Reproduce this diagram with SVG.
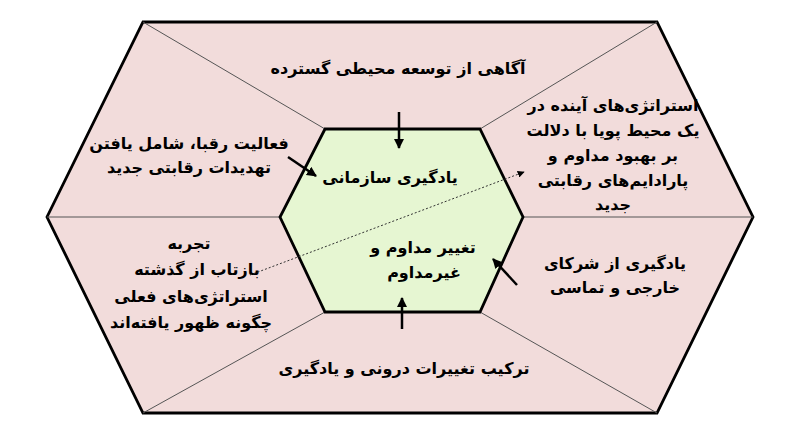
<svg xmlns="http://www.w3.org/2000/svg" width="800" height="436" viewBox="0 0 800 436">
<defs>
<style>
.t{font-family:"DejaVu Sans","Noto Sans",sans-serif;font-weight:bold;font-size:16px;fill:#000;text-anchor:middle;direction:rtl}
.div{stroke:#555;stroke-width:1;fill:none}
.arr{stroke:#000;stroke-width:2.5;fill:none;marker-end:url(#ah)}
.dot{stroke:#333;stroke-width:1;stroke-dasharray:2 2;fill:none;marker-end:url(#ahs)}
</style>
<marker id="ah" viewBox="0 0 10 10" refX="9" refY="5" markerWidth="4" markerHeight="4" orient="auto" markerUnits="strokeWidth">
<path d="M0,0 L10,5 L0,10 z" fill="#000"/>
</marker>
<marker id="ahs" viewBox="0 0 10 10" refX="9" refY="5" markerWidth="7" markerHeight="7" orient="auto" markerUnits="strokeWidth">
<path d="M0,0 L10,5 L0,10 z" fill="#000"/>
</marker>
</defs>
<rect width="800" height="436" fill="#fff"/>
<g id="outer">
<polygon points="143,22 657,22 753,217 657,413 143,413 47,217" fill="#F2DCDB" stroke="#000" stroke-width="2.8" stroke-linejoin="miter"/>
<line class="div" x1="143" y1="22" x2="325" y2="129"/>
<line class="div" x1="657" y1="22" x2="480" y2="129"/>
<line class="div" x1="47" y1="217" x2="280" y2="217"/>
<line class="div" x1="753" y1="217" x2="523" y2="217"/>
<line class="div" x1="143" y1="413" x2="325" y2="312"/>
<line class="div" x1="657" y1="413" x2="480" y2="312"/>
</g>
<g id="inner">
<polygon points="325,129 480,129 523,217 480,312 325,312 280,217" fill="#E6F6D2" stroke="#000" stroke-width="2.8"/>
<text class="t" x="390" y="183">یادگیری سازمانی</text>
<text class="t" x="423" y="253">تغییر مداوم و</text>
<text class="t" x="424" y="278">غیرمداوم</text>
</g>
<g id="top">
<text class="t" x="398" y="74">آگاهی از توسعه محیطی گسترده</text>
</g>
<g id="left-top">
<text class="t" x="189" y="149">فعالیت رقبا، شامل یافتن</text>
<text class="t" x="189" y="173">تهدیدات رقابتی جدید</text>
</g>
<g id="right-top">
<text class="t" x="613" y="111">استراتژی‌های آینده در</text>
<text class="t" x="613" y="136">یک محیط پویا با دلالت</text>
<text class="t" x="613" y="161">بر بهبود مداوم و</text>
<text class="t" x="613" y="186">پارادایم‌های رقابتی</text>
<text class="t" x="613" y="210">جدید</text>
</g>
<g id="left-bottom">
<text class="t" x="189" y="249">تجربه</text>
<text class="t" x="197" y="275">بازتاب از گذشته</text>
<text class="t" x="191" y="302">استراتژی‌های فعلی</text>
<text class="t" x="191" y="328">چگونه ظهور یافته‌اند</text>
</g>
<g id="right-bottom">
<text class="t" x="615" y="269">یادگیری از شرکای</text>
<text class="t" x="615" y="293">خارجی و تماسی</text>
</g>
<g id="bottom">
<text class="t" x="404" y="374">ترکیب تغییرات درونی و یادگیری</text>
</g>
<g id="connectors">
<line class="arr" x1="399" y1="112" x2="399" y2="148"/>
<line class="arr" x1="288" y1="157" x2="316" y2="176"/>
<line class="arr" x1="517" y1="285" x2="493" y2="259"/>
<line class="arr" x1="402" y1="329" x2="402" y2="298"/>
<line class="dot" x1="250" y1="275" x2="524" y2="172"/>
</g>
</svg>
